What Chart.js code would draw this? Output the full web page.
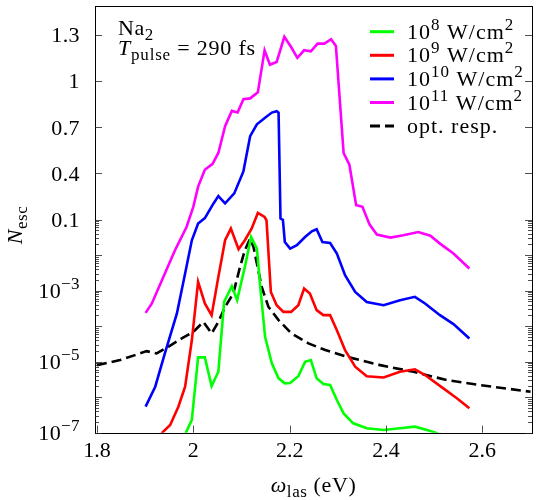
<!DOCTYPE html>
<html><head><meta charset="utf-8">
<script src="https://cdn.jsdelivr.net/npm/chart.js@4/dist/chart.umd.min.js"></script>
<style>html,body{margin:0;padding:0;background:#fff}</style>
</head><body>
<canvas id="c" width="540" height="500"></canvas>
<script>
// ---- data ----
const x1e8 = [1.984,1.997,2.010,2.024,2.038,2.052,2.064,2.080,2.091,2.107,2.120,2.132,2.139,2.149,2.163,2.177,2.190,2.201,2.218,2.232,2.244,2.256,2.270,2.284,2.298,2.312,2.332,2.360,2.395,2.429,2.460,2.485,2.508];
const n1e8 = [9.6e-8,2.3e-7,1.32e-5,1.32e-5,2.06e-6,5.2e-6,4.8e-4,1.33e-3,5.4e-4,4.65e-3,0.0324,0.0153,1.27e-3,5.0e-5,9.0e-6,3.4e-6,2.45e-6,2.5e-6,3.9e-6,9.9e-6,1.11e-5,3.4e-6,2.34e-6,2.2e-6,8.3e-7,3.5e-7,1.84e-7,1.33e-7,1.19e-7,1.33e-7,1.48e-7,1.19e-7,9.5e-8];

const x1e9 = [1.934,1.952,1.969,1.983,1.997,2.010,2.024,2.038,2.052,2.066,2.078,2.094,2.107,2.121,2.134,2.148,2.152,2.161,2.173,2.187,2.203,2.218,2.230,2.242,2.256,2.270,2.284,2.298,2.315,2.336,2.360,2.395,2.429,2.460,2.481,2.519,2.547,2.573];
const n1e9 = [9.6e-8,1.65e-7,5.4e-7,1.97e-6,4.0e-5,1.76e-3,4.35e-4,2.04e-4,2.43e-3,0.0262,0.0558,0.0146,0.0262,0.0558,0.143,0.117,0.0956,9.2e-4,3.9e-4,2.52e-4,2.52e-4,3.9e-4,1.15e-3,8.3e-4,2.82e-4,2.04e-4,2.04e-4,7.7e-5,2.12e-5,7.2e-6,3.9e-6,3.6e-6,5.2e-6,6.1e-6,4.2e-6,1.77e-6,9.3e-7,4.9e-7];

const x1e10 = [1.901,1.921,1.941,1.966,1.983,1.997,2.010,2.024,2.042,2.052,2.066,2.085,2.104,2.118,2.132,2.149,2.163,2.173,2.177,2.181,2.186,2.190,2.201,2.215,2.232,2.246,2.256,2.268,2.284,2.298,2.315,2.336,2.360,2.395,2.429,2.460,2.481,2.512,2.540,2.573];
const n1e10 = [5.4e-7,1.97e-6,1.71e-5,2.28e-4,3.03e-3,0.0262,0.0772,0.110,0.205,0.253,0.205,0.27,0.412,0.641,0.718,0.761,0.794,0.803,0.794,0.107,0.099,0.0234,0.0153,0.0190,0.0324,0.0469,0.0534,0.0234,0.022,0.0111,2.72e-3,9.2e-4,4.8e-4,3.9e-4,5.4e-4,6.7e-4,4.35e-4,2.04e-4,1.14e-4,4.5e-5];

const x1e11 = [1.901,1.914,1.941,1.962,1.986,2.000,2.010,2.024,2.040,2.052,2.066,2.080,2.092,2.104,2.118,2.134,2.148,2.159,2.173,2.189,2.203,2.216,2.230,2.244,2.258,2.272,2.286,2.296,2.312,2.324,2.338,2.351,2.366,2.381,2.409,2.436,2.467,2.492,2.512,2.540,2.573];
const n1e11 = [2.37e-4,4.35e-4,3.03e-3,1.37e-2,0.062,0.1825,0.314,0.423,0.462,0.532,0.706,0.805,0.795,0.881,0.886,0.925,1.198,1.104,1.122,1.285,1.219,1.149,1.198,1.191,1.241,1.241,1.270,1.226,0.532,0.456,0.194,0.183,0.0723,0.0379,0.0312,0.0362,0.0448,0.0351,0.0211,0.0111,0.0042];

const xOpt = [1.800,1.848,1.879,1.903,1.924,1.948,1.976,2.000,2.021,2.038,2.052,2.066,2.083,2.097,2.107,2.118,2.125,2.132,2.142,2.156,2.177,2.204,2.239,2.274,2.319,2.388,2.457,2.526,2.595,2.700];
const nOpt = [8.0e-6,1.11e-5,1.53e-5,1.98e-5,1.71e-5,2.62e-5,4.51e-5,6.9e-5,1.32e-4,6.2e-5,1.32e-4,3.49e-4,8.3e-4,4.65e-3,1.37e-2,2.92e-2,1.7e-2,5.8e-3,1.27e-3,3.49e-4,1.48e-4,6.2e-5,3.27e-5,2.12e-5,1.37e-5,8.0e-6,5.2e-6,3.03e-6,2.2e-6,1.42e-6];

const seriesLabels = ['10^8 W/cm^2','10^9 W/cm^2','10^10 W/cm^2','10^11 W/cm^2','opt. resp.'];
const xTicks = [1.8, 2.0, 2.2, 2.4, 2.6];
const yTicks = [1e-7, 1e-5, 1e-3, 0.1, 0.4, 0.7, 1, 1.3];
const yDecades = [1e-7,1e-6,1e-5,1e-4,1e-3,1e-2,0.1];

// ---- axis transform: log below 0.1, linear above (smooth join) ----
const tf = v => v >= 0.1 ? v : 0.1 + 0.1 * Math.log(v / 0.1);
const FF = '"Liberation Serif", "Times New Roman", serif';

function pts(xs, ns){ return xs.map((x,i)=>({x:x, y:tf(ns[i])})); }

function parseRich(s){
  const out=[];
  s.split(/(\^\d+)/).forEach(p=>{ if(!p) return; if(p[0]==='^') out.push({t:p.slice(1),k:'sup'}); else out.push({t:p,k:'n'}); });
  return out;
}
function rich(ctx, parts, x, y, align, ls){
  const B=22, S=17;
  ctx.letterSpacing = (ls||0)+'px';
  const seg = parts.map(p=>{
    const size = p.k==='n' ? B : S;
    const font = (p.i?'italic ':'') + size + 'px ' + FF;
    ctx.font = font;
    return {t:p.t, font:font, w:ctx.measureText(p.t).width, dy: p.k==='sup' ? -9 : (p.k==='sub' ? 5 : 0)};
  });
  const W = seg.reduce((a,s)=>a+s.w,0);
  let cx = align==='right' ? x-W : (align==='center' ? x-W/2 : x);
  ctx.textAlign='left'; ctx.textBaseline='alphabetic'; ctx.fillStyle='#000';
  seg.forEach(s=>{ ctx.font=s.font; ctx.fillText(s.t, cx, y+s.dy); cx+=s.w; });
  ctx.letterSpacing = '0px';
}

const deco = {
  id:'deco',
  afterDraw(chart){
    const ctx = chart.ctx, a = chart.chartArea, xs = chart.scales.x, ys = chart.scales.y;
    ctx.save();
    // frame
    ctx.strokeStyle='#000'; ctx.lineWidth=1; ctx.setLineDash([]);
    ctx.strokeRect(Math.round(a.left)+0.5, Math.round(a.top)+0.5, Math.round(a.right-a.left), Math.round(a.bottom-a.top));
    // ticks (inward)
    ctx.beginPath();
    const MAJ=7, MIN=4;
    const yt = (v,len)=>{ const p=Math.round(ys.getPixelForValue(tf(v)))+0.5; ctx.moveTo(a.left,p); ctx.lineTo(a.left+len,p); ctx.moveTo(a.right,p); ctx.lineTo(a.right-len,p); };
    yDecades.forEach(v=>yt(v,MAJ));
    [0.4,0.7,1,1.3].forEach(v=>yt(v,MAJ));
    for(let n=-7;n<=-2;n++){ for(let k=2;k<=9;k++){ yt(k*Math.pow(10,n),MIN); } }
    xTicks.forEach(v=>{ const p=Math.round(xs.getPixelForValue(v))+0.5; ctx.moveTo(p,a.bottom); ctx.lineTo(p,a.bottom-MAJ); });
    ctx.lineWidth=0.8; ctx.strokeStyle='#222'; ctx.stroke();
    // y tick labels
    yTicks.forEach(v=>{
      const p = ys.getPixelForValue(tf(v));
      let parts;
      if (v < 0.1) parts=[{t:'10',k:'n'},{t:'\u2212'+Math.round(-Math.log10(v)),k:'sup'}];
      else parts=[{t:String(v),k:'n'}];
      rich(ctx, parts, 80, p+7.5, 'right', 0.4);
    });
    // axis titles
    rich(ctx, [{t:'\u03c9',k:'n',i:true},{t:'las',k:'sub'},{t:' (eV)',k:'n'}], (a.left+a.right)/2, 492, 'center', 0.6);
    ctx.save(); ctx.translate(22, 225); ctx.rotate(-Math.PI/2);
    rich(ctx, [{t:'N',k:'n',i:true},{t:'esc',k:'sub'}], 0, 0, 'center', 0.5);
    ctx.restore();
    // annotation
    rich(ctx, [{t:'Na',k:'n'},{t:'2',k:'sub'}], 118, 35, 'left', 0.6);
    rich(ctx, [{t:'T',k:'n',i:true},{t:'pulse',k:'sub'},{t:' = 290 fs',k:'n'}], 118, 55, 'left', 0.8);
    // legend
    chart.data.datasets.forEach((ds,i)=>{
      const y = 31.7 + i*23.6;
      ctx.beginPath(); ctx.strokeStyle=ds.borderColor; ctx.lineWidth=3;
      ctx.setLineDash(ds.borderDash || []);
      ctx.moveTo(370,y); ctx.lineTo(394,y); ctx.stroke();
      ctx.setLineDash([]);
      rich(ctx, parseRich(ds.label), 407, y+7, 'left', 1.0);
    });
    ctx.restore();
  }
};

const mk = (label, data, color, dash) => ({label:label, data:data, borderColor:color, backgroundColor:color, borderWidth:2.6, pointRadius:0, tension:0, borderDash:dash||[], fill:false});

new Chart(document.getElementById('c'), {
  type:'line',
  data:{ datasets:[
    mk(seriesLabels[0], pts(x1e8,n1e8), '#00ff00'),
    mk(seriesLabels[1], pts(x1e9,n1e9), '#ff0000'),
    mk(seriesLabels[2], pts(x1e10,n1e10), '#0000ff'),
    mk(seriesLabels[3], pts(x1e11,n1e11), '#ff00ff'),
    mk(seriesLabels[4], pts(xOpt,nOpt), '#000000', [10,5])
  ]},
  options:{
    responsive:false, animation:false, devicePixelRatio:1,
    layout:{padding:{top:6, right:8, left:0, bottom:0}},
    plugins:{legend:{display:false}, tooltip:{enabled:false}},
    scales:{
      x:{ type:'linear', min:1.796, max:2.703,
        grid:{display:false, drawTicks:false}, border:{display:false},
        afterBuildTicks:s=>{ s.ticks = xTicks.map(v=>({value:v})); },
        afterFit:s=>{ s.height = 67.3; },
        ticks:{ color:'#000', font:{family:FF, size:22}, padding:5, maxRotation:0, autoSkip:false,
          callback:v=>String(+Number(v).toFixed(1)) } },
      y:{ type:'linear', min:tf(1e-7), max:1.485,
        grid:{display:false, drawTicks:false}, border:{display:false},
        afterBuildTicks:s=>{ s.ticks = yTicks.map(v=>({value:tf(v)})); },
        afterFit:s=>{ s.width = 95; },
        ticks:{ display:false } }
    }
  },
  plugins:[deco]
});
</script>
</body></html>
